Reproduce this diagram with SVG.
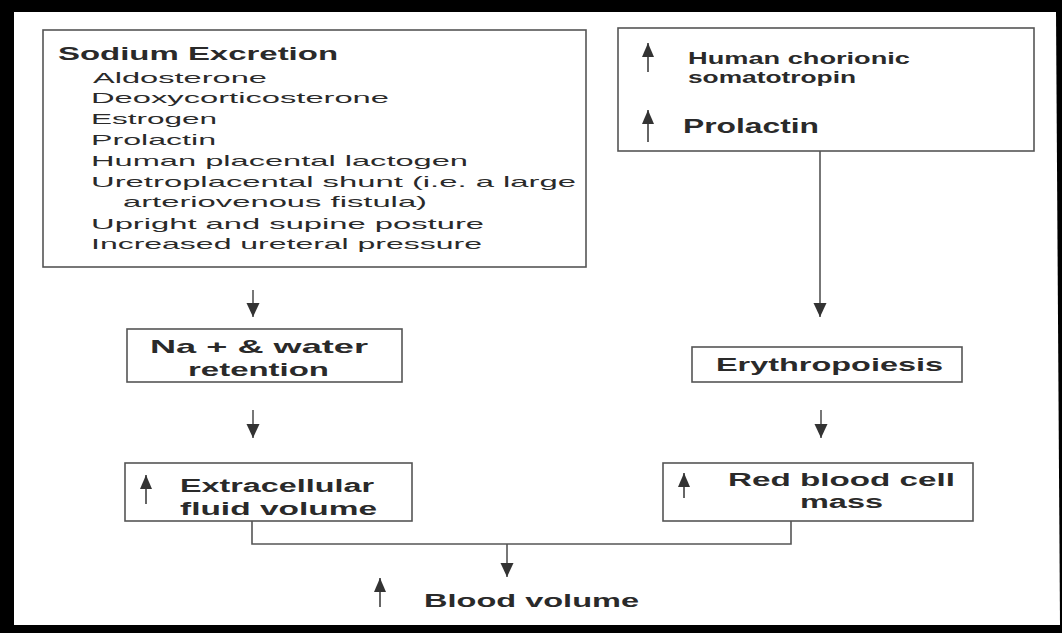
<svg xmlns="http://www.w3.org/2000/svg" width="1062" height="633" viewBox="0 0 1062 633">
  <style>
    .box { fill: none; stroke: #555; stroke-width: 1.6; }
    .t { font-family: "Liberation Sans", Arial, sans-serif; fill: #2a2a2a; }
    .b { font-weight: bold; }
    .conn { fill: none; stroke: #555; stroke-width: 1.6; }
    .up { stroke: #666; stroke-width: 2; fill: none; }
  </style>
  <defs>
    <marker id="ah" markerUnits="userSpaceOnUse" viewBox="0 0 14 14" markerWidth="14" markerHeight="14" refX="14" refY="7" orient="auto">
      <path d="M0,0.5 L14,7 L0,13.5 z" fill="#333"/>
    </marker>
    <marker id="uh" markerUnits="userSpaceOnUse" viewBox="0 0 14 12" markerWidth="14" markerHeight="12" refX="14" refY="6" orient="auto">
      <path d="M0,0 L14,6 L0,12 z" fill="#333"/>
    </marker>
  </defs>

  <rect x="0" y="0" width="1062" height="633" fill="#000"/>
  <path d="M14,12 L1056,12 L1060,625 L14,625 Z" fill="#fff"/>

  <g id="node-sodium-excretion">
    <rect class="box" x="43" y="30" width="543" height="237"/>
    <text class="t b" x="58" y="60" font-size="19" textLength="280" lengthAdjust="spacingAndGlyphs">Sodium Excretion</text>
    <text class="t" x="93" y="83" font-size="15" textLength="174" lengthAdjust="spacingAndGlyphs">Aldosterone</text>
    <text class="t" x="91" y="103" font-size="15" textLength="298" lengthAdjust="spacingAndGlyphs">Deoxycorticosterone</text>
    <text class="t" x="91" y="124" font-size="15" textLength="126" lengthAdjust="spacingAndGlyphs">Estrogen</text>
    <text class="t" x="91" y="145" font-size="15" textLength="125" lengthAdjust="spacingAndGlyphs">Prolactin</text>
    <text class="t" x="91" y="166" font-size="15" textLength="377" lengthAdjust="spacingAndGlyphs">Human placental lactogen</text>
    <text class="t" x="91" y="187" font-size="15" textLength="485" lengthAdjust="spacingAndGlyphs">Uretroplacental shunt (i.e. a large</text>
    <text class="t" x="123" y="207" font-size="15" textLength="304" lengthAdjust="spacingAndGlyphs">arteriovenous fistula)</text>
    <text class="t" x="91" y="229" font-size="15" textLength="393" lengthAdjust="spacingAndGlyphs">Upright and supine posture</text>
    <text class="t" x="91" y="249" font-size="15" textLength="391" lengthAdjust="spacingAndGlyphs">Increased ureteral pressure</text>
  </g>

  <g id="node-hormones">
    <rect class="box" x="618" y="28" width="416" height="123"/>
    <line class="up" x1="648" y1="72" x2="648" y2="43" marker-end="url(#uh)"/>
    <text class="t b" x="688" y="64" font-size="16" textLength="222" lengthAdjust="spacingAndGlyphs">Human chorionic</text>
    <text class="t b" x="688" y="83" font-size="16" textLength="168" lengthAdjust="spacingAndGlyphs">somatotropin</text>
    <line class="up" x1="648" y1="142" x2="648" y2="110" marker-end="url(#uh)"/>
    <text class="t b" x="683" y="133" font-size="20" textLength="136" lengthAdjust="spacingAndGlyphs">Prolactin</text>
  </g>

  <g id="node-na-water">
    <rect class="box" x="127" y="329" width="275" height="53"/>
    <text class="t b" x="150" y="353" font-size="18.5" textLength="218" lengthAdjust="spacingAndGlyphs">Na + &amp; water</text>
    <text class="t b" x="188" y="376" font-size="18.5" textLength="141" lengthAdjust="spacingAndGlyphs">retention</text>
  </g>

  <g id="node-erythropoiesis">
    <rect class="box" x="692" y="347" width="270" height="35"/>
    <text class="t b" x="716" y="371" font-size="18.5" textLength="227" lengthAdjust="spacingAndGlyphs">Erythropoiesis</text>
  </g>

  <g id="node-ecf">
    <rect class="box" x="125" y="463" width="287" height="58"/>
    <line class="up" x1="146" y1="504" x2="146" y2="475" marker-end="url(#uh)"/>
    <text class="t b" x="180" y="492" font-size="18" textLength="194" lengthAdjust="spacingAndGlyphs">Extracellular</text>
    <text class="t b" x="180" y="515" font-size="18" textLength="197" lengthAdjust="spacingAndGlyphs">fluid volume</text>
  </g>

  <g id="node-rbc">
    <rect class="box" x="663" y="463" width="310" height="58"/>
    <line class="up" x1="684" y1="498" x2="684" y2="473" marker-end="url(#uh)"/>
    <text class="t b" x="728" y="486" font-size="17.5" textLength="227" lengthAdjust="spacingAndGlyphs">Red blood cell</text>
    <text class="t b" x="800" y="508" font-size="17.5" textLength="83" lengthAdjust="spacingAndGlyphs">mass</text>
  </g>

  <g id="node-blood-volume">
    <line class="up" x1="380" y1="607" x2="380" y2="578" marker-end="url(#uh)"/>
    <text class="t b" x="424" y="607" font-size="17.5" textLength="215" lengthAdjust="spacingAndGlyphs">Blood volume</text>
  </g>

  <g id="connectors">
    <line class="conn" x1="253" y1="290" x2="253" y2="317" marker-end="url(#ah)"/>
    <line class="conn" x1="253" y1="410" x2="253" y2="438" marker-end="url(#ah)"/>
    <line class="conn" x1="820" y1="151" x2="820" y2="317" marker-end="url(#ah)"/>
    <line class="conn" x1="821" y1="410" x2="821" y2="438" marker-end="url(#ah)"/>
    <polyline class="conn" points="252,521 252,544 791,544 791,521"/>
    <line class="conn" x1="507" y1="544" x2="507" y2="577" marker-end="url(#ah)"/>
  </g>
</svg>
